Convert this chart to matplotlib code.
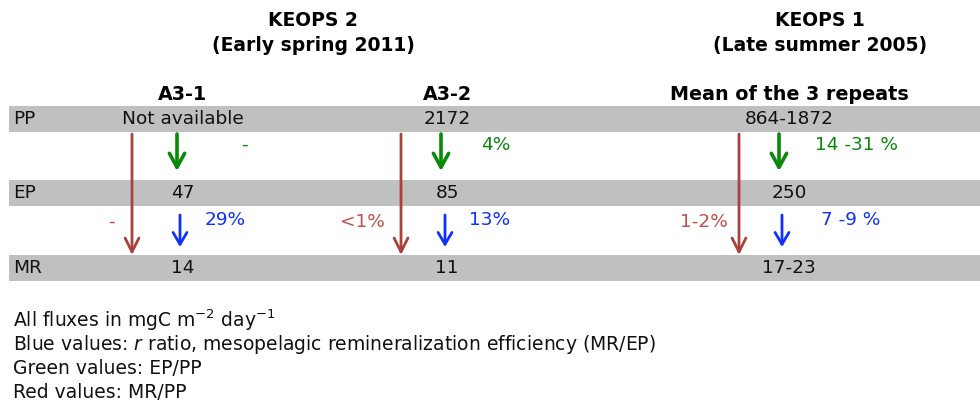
import matplotlib
matplotlib.use("Agg")
import matplotlib.pyplot as plt

# table content
rows = ['PP', 'EP', 'MR']
campaigns = ['KEOPS 2\n(Early spring 2011)', 'KEOPS 1\n(Late summer 2005)']
stations = ['A3-1', 'A3-2', 'Mean of the 3 repeats']
pp_vals = ['Not available', '2172', '864-1872']
ep_vals = ['47', '85', '250']
mr_vals = ['14', '11', '17-23']
ep_pp = ['-', '4%', '14 -31 %']      # green
mr_ep = ['29%', '13%', '7 -9 %']     # blue
mr_pp = ['-', '<1%', '1-2%']         # red
notes = ['All fluxes in mgC m$^{-2}$ day$^{-1}$',
         'Blue values: $r$ ratio, mesopelagic remineralization efficiency (MR/EP)',
         'Green values: EP/PP',
         'Red values: MR/PP']

# layout (pixels)
col_x = [183, 447, 789]
camp_x = [313, 820]
row_y = [119, 193, 268]
green_x = [177, 441, 779]
blue_x = [180, 445, 782]
red_x = [132, 401, 739]
green_lab_x = [241, 481, 815]
blue_lab_x = [205, 469, 821]
red_lab_x = [115, 385, 728]

GREEN = '#0a880a'
BLUE = '#1030ff'
RED_ARR = '#a8423c'
RED_TXT = '#c0504d'
FS = 13.3

fig = plt.figure(figsize=(9.8, 4.03), dpi=100)
ax = fig.add_axes([0, 0, 1, 1])
ax.set_xlim(0, 980)
ax.set_ylim(403, 0)
ax.axis('off')

for name, y in zip(rows, row_y):
    ax.barh(y, 975, left=9, height=26, color='#c0c0c0', zorder=0)
    ax.text(13, y, name, fontsize=FS, va='center', ha='left', color='#111111')

for t, x in zip(campaigns, camp_x):
    ax.text(x, 33, t, fontsize=13.5, fontweight='bold', ha='center', va='center',
            linespacing=1.4)

for s, x in zip(stations, col_x):
    ax.text(x, 95, s, fontsize=13.8, fontweight='bold', ha='center', va='center')

for vals, y in zip([pp_vals, ep_vals, mr_vals], row_y):
    for v, x in zip(vals, col_x):
        ax.text(x, y, v, fontsize=FS, ha='center', va='center', color='#111111')


def arrow(x, y0, y1, color, lw, hw=0.5, hl=0.9):
    ax.annotate('', xy=(x, y1), xytext=(x, y0),
                arrowprops=dict(arrowstyle=f'->,head_width={hw},head_length={hl}',
                                color=color, lw=lw, shrinkA=0, shrinkB=0))


for i in range(3):
    arrow(green_x[i], 134, 171, GREEN, 2.6, 0.55, 1.0)
    arrow(blue_x[i], 215, 247, BLUE, 2.0, 0.5, 0.85)
    arrow(red_x[i], 134, 255, RED_ARR, 2.0, 0.5, 1.0)
    ax.text(green_lab_x[i], 145, ep_pp[i], color=GREEN, fontsize=FS,
            ha='left', va='center')
    ax.text(blue_lab_x[i], 220, mr_ep[i], color=BLUE, fontsize=FS,
            ha='left', va='center')
    ax.text(red_lab_x[i], 222, mr_pp[i], color=RED_TXT, fontsize=FS,
            ha='right', va='center')

for k, n in enumerate(notes):
    ax.text(13, 320 + 24 * k, n, fontsize=13.5, ha='left', va='center',
            color='#111111')

fig.savefig('out.png', dpi=100)
